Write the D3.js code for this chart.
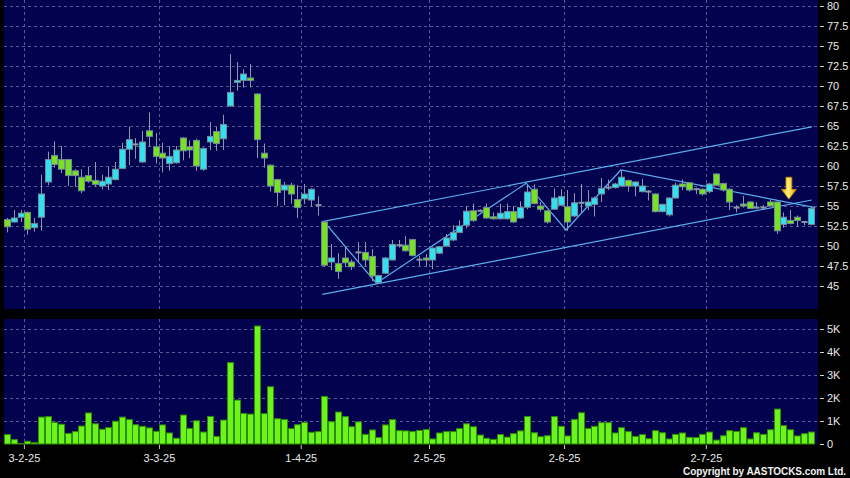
<!DOCTYPE html>
<html>
<head>
<meta charset="utf-8">
<script src="https://cdn.jsdelivr.net/npm/d3@7"></script>
<style>
html,body{margin:0;padding:0;background:#000;}
svg{display:block;}
</style>
</head>
<body>
<svg id="chart" width="850" height="478"></svg>
<script>
// ---- data ----
const openPrice = [
 53.3,53.0,53.6,54.2,52.3,53.6,58.0,61.3,60.8,60.8,
 59.4,58.6,58.8,58.2,57.5,57.75,58.3,59.7,62.1,62.7,
 60.5,64.4,62.4,61.6,60.3,60.4,63.5,62.4,63.2,59.6,
 63.0,64.3,63.4,67.5,70.5,70.7,71.0,69.0,61.6,60.1,
 58.3,57.0,57.6,55.8,55.9,55.75,55.1,53.0,48.0,47.8,
 48.5,48.0,49.2,49.2,48.7,45.4,46.6,48.25,50.1,50.1,
 50.8,48.3,48.5,48.25,49.1,50.0,50.75,51.7,52.6,54.4,
 54.4,54.8,53.65,53.4,53.4,54.3,53.5,54.85,57.1,55.0,
 54.4,54.6,55.1,54.9,53.75,55.4,55.0,55.2,56.5,57.3,
 57.3,57.5,58.2,57.5,56.8,56.8,56.5,54.3,53.9,56.0,
 57.75,57.9,57.1,57.1,56.8,59.0,57.8,57.1,54.8,55.25,
 55.5,54.8,54.8,55.5,55.5,52.7,53.2,53.6,53.0,52.7];
const closePrice = [
 52.4,53.5,54.1,52.1,52.8,56.5,60.8,60.2,59.6,58.8,
 58.8,56.9,58.1,57.7,58.1,58.6,59.6,62.1,63.3,62.7,
 63.0,63.7,61.2,61.0,61.2,62.0,61.9,62.0,60.0,62.2,
 63.7,62.8,65.2,69.2,70.7,71.5,70.7,63.3,61.0,57.5,
 56.7,57.6,56.5,54.8,56.5,57.1,55.1,47.6,48.5,46.8,
 47.9,47.4,49.2,48.25,46.25,46.3,48.5,50.2,50.1,49.4,
 48.8,48.3,48.25,49.75,49.9,51.0,51.7,52.5,54.35,53.2,
 54.4,53.5,53.45,54.1,54.3,53.0,54.8,56.75,55.3,54.6,
 53.0,56.0,56.2,53.0,55.4,55.4,55.5,56.0,57.2,57.3,
 57.75,58.6,57.5,58.0,57.5,56.8,54.3,55.2,56.0,57.6,
 57.4,57.0,57.1,56.5,57.75,57.6,57.0,55.5,54.8,55.0,
 54.7,54.8,54.8,55.0,51.9,53.6,52.8,53.2,53.0,54.7];
const highPrice = [
 53.5,54.5,54.5,54.3,53.5,58.9,61.8,63.1,62.5,60.9,
 59.6,59.6,59.9,60.5,58.9,59.9,60.5,62.9,64.9,63.5,
 64.4,66.7,64.1,62.9,62.5,62.5,63.6,63.2,63.4,62.3,
 65.5,64.9,66.4,74.0,73.0,72.1,72.75,69.1,62.8,60.2,
 58.4,58.0,57.9,57.6,57.75,57.2,56.2,53.1,50.25,49.1,
 50.0,48.3,50.5,50.5,49.6,46.4,48.6,50.75,50.75,51.25,
 50.9,48.75,49.0,49.8,50.0,51.5,52.6,53.2,55.0,55.3,
 54.6,55.3,54.2,55.3,55.3,55.0,55.6,57.7,57.7,55.5,
 54.5,57.2,57.1,57.0,56.6,57.75,57.0,56.2,58.5,58.3,
 57.9,59.4,58.3,58.1,58.4,57.0,56.6,55.3,56.1,57.9,
 58.3,58.0,57.3,57.2,57.9,59.1,57.9,57.2,55.1,56.25,
 55.6,55.5,55.1,55.8,55.6,54.2,54.5,53.8,53.1,55.0];
const lowPrice = [
 51.7,52.9,53.0,51.4,51.8,51.9,57.6,59.8,59.1,57.5,
 57.4,56.6,57.9,57.4,57.1,57.0,58.2,59.6,60.1,60.9,
 60.4,62.4,60.3,59.2,59.4,60.3,60.7,61.0,59.4,59.4,
 62.0,61.9,62.0,67.4,69.4,69.8,69.8,61.0,59.8,56.8,
 55.0,55.1,55.3,53.5,55.25,54.9,53.8,47.4,47.0,45.9,
 47.4,47.0,48.0,47.4,45.6,45.3,46.5,48.2,49.8,49.3,
 48.7,47.5,47.4,47.1,49.0,49.9,50.6,51.6,52.2,53.0,
 54.2,53.4,53.3,53.3,53.3,52.9,53.4,54.6,55.2,54.3,
 52.8,54.5,55.0,51.9,53.6,54.2,54.5,53.7,55.5,57.0,
 57.2,57.4,56.8,56.2,56.7,55.7,54.2,54.2,53.7,55.9,
 57.0,56.8,56.5,56.3,56.6,57.5,56.8,54.5,54.2,54.8,
 54.6,54.6,54.6,54.9,51.5,52.3,52.7,52.4,52.6,52.6];
// volume in thousands
const volumeK = [
 0.41,0.19,0.02,0.12,0.06,1.17,1.19,0.94,0.86,0.46,
 0.54,0.78,1.35,0.88,0.64,0.71,0.99,1.17,1.06,0.84,
 0.77,0.70,0.55,0.83,0.48,0.25,1.26,0.68,1.01,0.52,
 1.20,0.33,1.04,3.54,1.91,1.33,1.30,5.13,1.32,2.49,
 1.10,1.06,0.67,0.84,0.94,0.51,0.54,2.07,0.97,1.39,
 1.19,0.75,0.96,0.42,0.61,0.28,0.83,1.06,0.58,0.57,
 0.54,0.59,0.63,0.22,0.48,0.54,0.54,0.67,0.88,0.75,
 0.39,0.25,0.20,0.41,0.30,0.45,0.57,1.20,0.49,0.32,
 0.36,1.19,0.77,0.35,1.07,1.36,0.67,0.77,0.93,0.93,
 0.48,0.71,0.54,0.33,0.41,0.23,0.58,0.49,0.22,0.42,
 0.48,0.29,0.28,0.42,0.52,0.17,0.36,0.58,0.54,0.71,
 0.22,0.49,0.42,0.62,1.52,0.80,0.62,0.35,0.45,0.52];

// month labels and the index of the first trading day of each month
const monthLabels = ["3-2-25","3-3-25","1-4-25","2-5-25","2-6-25","2-7-25"];
const monthStartIndex = [3,23,44,63,83,104];

// price / volume axis ticks
const priceTicks = [45,47.5,50,52.5,55,57.5,60,62.5,65,67.5,70,72.5,75,77.5,80];
const volumeTicks = [0,1,2,3,4,5];

// drawn trend lines, in (bar index, price)
const channelUpper = [[46.7,53.05],[119.2,64.9]];
const channelLower = [[46.7,43.95],[119.2,55.75]];
const swingLine = [[47,53.0],[54.7,45.35],[76.9,57.85],[82.8,52.0],[90.9,59.5],[119.7,54.8]];
// yellow signal arrow: bar index, price at its tail and at its tip
const arrowIndex = [115.8];
const arrowTail = [58.6];
const arrowTip = [55.85];

// ---- drawing ----
const svg = d3.select("#chart");
const W = 850, H = 478;
const plotL = 4, plotR = 818;
const priceTop = 0, priceBot = 309;
const volTop = 319, volBot = 444;

const n = openPrice.length;
const x = d3.scaleLinear().domain([0, n - 1]).range([7, 810.5]);
const y = d3.scaleLinear().domain([45, 80]).range([286, 6]);
const yv = d3.scaleLinear().domain([0, 5]).range([444, 329]);

svg.append("rect").attr("width", W).attr("height", H).attr("fill", "#000");

const navy = "#02024f";
svg.append("rect").attr("x", plotL).attr("y", priceTop).attr("width", plotR - plotL).attr("height", priceBot - priceTop).attr("fill", navy);
svg.append("rect").attr("x", plotL).attr("y", volTop).attr("width", plotR - plotL).attr("height", volBot - volTop).attr("fill", navy);

const gridColor = "#5a5a94";
const grid = svg.append("g").attr("stroke", gridColor).attr("stroke-width", 1).attr("stroke-dasharray", "3,3").attr("shape-rendering", "crispEdges");

// horizontal grid
priceTicks.forEach(v => {
  const yy = Math.round(y(v)) + 0.5;
  grid.append("line").attr("x1", plotL).attr("x2", plotR).attr("y1", yy).attr("y2", yy);
});
volumeTicks.filter(v => v > 0).forEach(v => {
  const yy = Math.round(yv(v)) + 0.5;
  grid.append("line").attr("x1", plotL).attr("x2", plotR).attr("y1", yy).attr("y2", yy);
});
// vertical grid at month boundaries
monthStartIndex.forEach(i => {
  const xx = Math.round(x(i - 0.5)) + 0.5;
  grid.append("line").attr("x1", xx).attr("x2", xx).attr("y1", priceTop).attr("y2", priceBot);
  grid.append("line").attr("x1", xx).attr("x2", xx).attr("y1", volTop).attr("y2", volBot);
});

// right axes
const axisG = svg.append("g").attr("font-family", "Liberation Sans, Arial, sans-serif").attr("font-size", 11).attr("fill", "#e8e8e8");
const pAxis = d3.axisRight(y).tickValues(priceTicks).tickSize(4).tickPadding(3).tickFormat(d => d3.format("")(d));
const pg = svg.append("g").attr("transform", `translate(${plotR + 2},0)`).call(pAxis);
const vAxis = d3.axisRight(yv).tickValues(volumeTicks).tickSize(4).tickPadding(3).tickFormat(d => d === 0 ? "0" : d + "K");
const vg = svg.append("g").attr("transform", `translate(${plotR + 2},0)`).call(vAxis);
[pg, vg].forEach(g => {
  g.select(".domain").remove();
  g.selectAll(".tick line").attr("stroke", "#d0d0d0");
  g.selectAll(".tick text").attr("fill", "#e8e8e8").attr("font-family", "Liberation Sans, Arial, sans-serif").attr("font-size", 11);
});

// bottom month labels
const xAxis = d3.axisBottom(d3.scaleLinear().domain(x.domain()).range(x.range()))
  .tickValues(monthStartIndex.map(i => i - 0.5)).tickSize(4).tickPadding(5)
  .tickFormat((d, k) => monthLabels[k]);
const xg = svg.append("g").attr("transform", `translate(0,${volBot + 1})`).call(xAxis);
xg.select(".domain").remove();
xg.selectAll(".tick line").attr("stroke", "#c8c8c8");
xg.selectAll(".tick text").attr("fill", "#e8e8e8").attr("font-family", "Liberation Sans, Arial, sans-serif").attr("font-size", 11);

// clip for price panel
svg.append("clipPath").attr("id", "pclip").append("rect").attr("x", plotL).attr("y", priceTop).attr("width", plotR - plotL).attr("height", priceBot - priceTop);

// trend lines
const line = d3.line().x(d => x(d[0])).y(d => y(d[1]));
const tl = svg.append("g").attr("clip-path", "url(#pclip)").attr("fill", "none").attr("stroke", "#58aef0").attr("stroke-width", 1.2);
[channelUpper, channelLower, swingLine].forEach(pts => tl.append("path").attr("d", line(pts)));

// candles
const upFill = "#33e0f2", downFill = "#78e21e", bodyStroke = "#6f8c98", wickColor = "#8a98aa";
const cg = svg.append("g").attr("clip-path", "url(#pclip)");
d3.range(n).forEach(i => {
  const cx = Math.round(x(i));
  const o = openPrice[i], c = closePrice[i];
  cg.append("line").attr("x1", cx + 0.5).attr("x2", cx + 0.5)
    .attr("y1", y(highPrice[i])).attr("y2", y(lowPrice[i]))
    .attr("stroke", wickColor).attr("stroke-width", 1);
  if (o === c) {
    cg.append("rect").attr("x", cx - 2.5).attr("y", y(o) - 1).attr("width", 6).attr("height", 2)
      .attr("fill", wickColor);
  } else {
    const top = y(Math.max(o, c)), bot = y(Math.min(o, c));
    cg.append("rect").attr("x", cx - 2.5).attr("y", top).attr("width", 6).attr("height", Math.max(2, bot - top))
      .attr("fill", c > o ? upFill : downFill).attr("stroke", bodyStroke).attr("stroke-width", 1);
  }
});

// volume bars
const vgBars = svg.append("g");
d3.range(n).forEach(i => {
  const cx = Math.round(x(i));
  const top = yv(volumeK[i]);
  vgBars.append("rect").attr("x", cx - 2.5).attr("y", top).attr("width", 6).attr("height", Math.max(0, yv(0) - top))
    .attr("fill", "#6cf51a").attr("stroke", "#2f8a08").attr("stroke-width", 1);
});

// yellow arrow
const defs = svg.append("defs");
const grad = defs.append("linearGradient").attr("id", "arrowGrad").attr("x1", 0).attr("x2", 1).attr("y1", 0).attr("y2", 0);
grad.append("stop").attr("offset", "0%").attr("stop-color", "#f0a800");
grad.append("stop").attr("offset", "45%").attr("stop-color", "#fff27a");
grad.append("stop").attr("offset", "100%").attr("stop-color", "#e89a00");
arrowIndex.forEach((ai, k) => {
  const ax = x(ai), yt = y(arrowTail[k]), yp = y(arrowTip[k]);
  const headH = (yp - yt) * 0.45;
  const sw = 3, hw = 7.5;
  const pts = [[ax - sw, yt], [ax + sw, yt], [ax + sw, yp - headH], [ax + hw, yp - headH], [ax, yp], [ax - hw, yp - headH], [ax - sw, yp - headH]];
  svg.append("path").attr("d", "M" + pts.map(p => p.join(",")).join("L") + "Z")
    .attr("fill", "url(#arrowGrad)").attr("stroke", "#b87800").attr("stroke-width", 0.8);
});

// copyright
svg.append("text").attr("x", 846).attr("y", 475).attr("text-anchor", "end")
  .attr("font-family", "Liberation Sans, Arial, sans-serif").attr("font-size", 10).attr("font-weight", "bold")
  .attr("fill", "#f0f0f0").attr("textLength", 163).attr("lengthAdjust", "spacing")
  .text("Copyright by AASTOCKS.com Ltd.");
</script>
</body>
</html>
